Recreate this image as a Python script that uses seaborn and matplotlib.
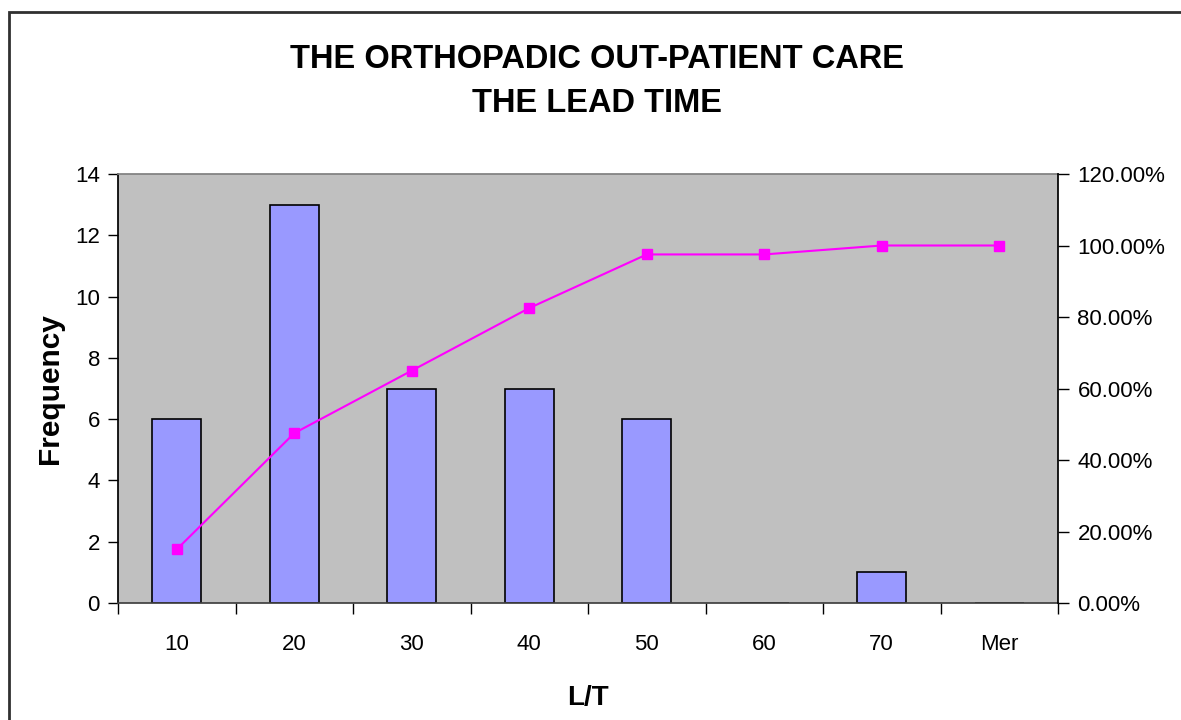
import numpy as np
import matplotlib
matplotlib.use("Agg")
import matplotlib.pyplot as plt
import seaborn as sns
import pandas as pd
from matplotlib.ticker import FuncFormatter, FixedLocator

# data
bins = ['10', '20', '30', '40', '50', '60', '70', 'Mer']
frequency = [6, 13, 7, 7, 6, 0, 1, 0]
cumulative_pct = [15.0, 47.5, 65.0, 82.5, 97.5, 97.5, 100.0, 100.0]

df = pd.DataFrame({'L/T': bins, 'Frequency': frequency, 'Cumulative': cumulative_pct})

sns.set_theme(style='white')
plt.rcParams['font.family'] = ['Liberation Sans', 'DejaVu Sans']
plt.rcParams['text.color'] = 'black'
plt.rcParams['axes.labelcolor'] = 'black'
plt.rcParams['xtick.color'] = 'black'
plt.rcParams['ytick.color'] = 'black'

fig = plt.figure(figsize=(11.81, 7.2), dpi=100)
ax = fig.add_axes([118 / 1181, 1 - 603 / 720, 940 / 1181, 429 / 720])
ax.set_facecolor('#C0C0C0')

sns.barplot(data=df, x='L/T', y='Frequency', color='#9999FF', saturation=1,
            edgecolor='black', linewidth=1.2, width=0.42, ax=ax)

ax.set_xlim(-0.5, len(bins) - 0.5)
ax.set_ylim(0, 14)
ax.set_yticks(range(0, 15, 2))
ax.tick_params(axis='y', direction='out', length=7, width=1, color='black',
               labelsize=16, pad=6, left=True)
# category labels in the middle, tick marks at the boundaries
ax.tick_params(axis='x', which='major', length=0, labelsize=16, pad=22)
ax.xaxis.set_minor_locator(FixedLocator(np.arange(-0.5, len(bins), 1.0)))
ax.tick_params(axis='x', which='minor', direction='out', length=8, width=1,
               color='black', bottom=True)

ax.spines['left'].set_color('black')
ax.spines['bottom'].set_color('#404040')
ax.spines['top'].set_color('#808080')
ax.spines['right'].set_visible(False)
for s in ax.spines.values():
    s.set_zorder(5)

ax.set_xlabel('L/T', fontsize=20, fontweight='bold')
ax.set_ylabel('Frequency', fontsize=21.5, fontweight='bold')
ax.xaxis.set_label_coords(0.5, -0.191)
ax.yaxis.set_label_coords(-0.057, 0.5)

# cumulative % on the secondary axis
ax2 = ax.twinx()
ax2.plot(np.arange(len(bins)), df['Cumulative'], color='#FF00FF', linewidth=1.5,
         marker='s', markersize=7, markeredgecolor='#FF00FF')
ax2.set_ylim(0, 120)
ax2.set_yticks(range(0, 121, 20))
ax2.yaxis.set_major_formatter(FuncFormatter(lambda v, p: f'{v:.2f}%'))
ax2.tick_params(axis='y', direction='out', length=8, width=1, color='black',
                labelsize=16, pad=6, right=True)
for s in ['left', 'top', 'bottom']:
    ax2.spines[s].set_visible(False)
ax2.spines['right'].set_color('black')

fig.text(597 / 1181, 1 - 59 / 720, 'THE ORTHOPADIC OUT-PATIENT CARE',
         ha='center', va='center', fontsize=23.5, fontweight='bold')
fig.text(597 / 1181, 1 - 104 / 720, 'THE LEAD TIME',
         ha='center', va='center', fontsize=23.5, fontweight='bold')

# chart border (cropped at right and bottom)
border = plt.Rectangle((9 / 1181, -0.2), 1.5, 1 - 12 / 720 + 0.2, transform=fig.transFigure,
                       fill=False, edgecolor='#303030', linewidth=2, clip_on=False)
fig.patches.append(border)

fig.savefig('out.png', dpi=100)
